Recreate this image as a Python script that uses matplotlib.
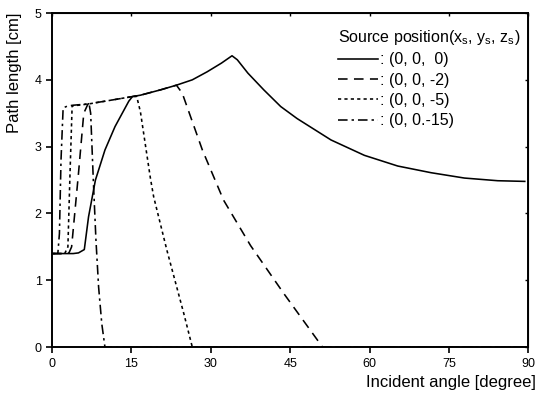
import matplotlib
matplotlib.use("Agg")
import matplotlib.pyplot as plt

plt.rcParams['font.family'] = ['Liberation Sans', 'DejaVu Sans']

# source at (0, 0, 0)
x_s0 = [0, 2, 4, 5.0, 6.1, 6.9, 8.2, 10.0, 11.9, 14.5, 15.2, 16.7, 20.5, 23.5, 26.5, 29.3,
        32.0, 34.0, 35.0, 37.0, 40.0, 43.2, 46.3, 52.7, 59.0, 65.3, 71.6, 77.9, 84.2, 89.3]
y_s0 = [1.40, 1.40, 1.40, 1.41, 1.46, 1.95, 2.50, 2.95, 3.30, 3.68, 3.75, 3.77, 3.85, 3.92, 4.00, 4.12,
        4.25, 4.36, 4.30, 4.10, 3.85, 3.60, 3.42, 3.10, 2.87, 2.71, 2.61, 2.53, 2.49, 2.48]

# source at (0, 0, -2)
x_s2 = [0, 2, 3.2, 3.7, 5.0, 6.0, 6.8, 10.0, 13.0, 15.2, 16.7, 20.5, 23.5, 24.6,
        28.4, 32.4, 37.5, 43.8, 51.1, 60, 75, 90]
y_s2 = [1.40, 1.40, 1.41, 1.50, 2.60, 3.50, 3.64, 3.68, 3.72, 3.75, 3.77, 3.85, 3.92, 3.80,
        2.95, 2.20, 1.52, 0.80, 0.0, 0.0, 0.0, 0.0]

# source at (0, 0, -5)
x_s5 = [0, 2.4, 3.0, 3.4, 3.8, 5.0, 7.0, 10.0, 13.0, 15.2, 16.0, 16.7, 18.6, 19.2,
        21.7, 24.9, 26.5, 40, 60, 90]
y_s5 = [1.40, 1.40, 1.50, 2.60, 3.61, 3.62, 3.64, 3.68, 3.72, 3.75, 3.75, 3.52, 2.52, 2.25,
        1.45, 0.50, 0.0, 0.0, 0.0, 0.0]

# source at (0, 0, -15)
x_s15 = [0, 1.1, 1.4, 1.7, 2.1, 3.0, 4.0, 5.5, 7.0, 7.3, 7.8, 8.3, 8.8, 9.4, 10.0, 30, 60, 90]
y_s15 = [1.40, 1.40, 1.70, 2.80, 3.58, 3.61, 3.62, 3.63, 3.64, 3.50, 2.50, 1.60, 0.90, 0.35, 0.0,
         0.0, 0.0, 0.0]

labels = [': (0, 0,  0)', ': (0, 0, -2)', ': (0, 0, -5)', ': (0, 0.-15)']
x_ticks = [0, 15, 30, 45, 60, 75, 90]
y_ticks = [0, 1, 2, 3, 4, 5]

fig = plt.figure(figsize=(5.39, 3.94), dpi=100)
ax = fig.add_axes([0.0965, 0.119, 0.884, 0.848])

lw = 1.15
ax.plot(x_s0, y_s0, color='black', lw=lw, linestyle='-', label=labels[0])
ax.plot(x_s2, y_s2, color='black', lw=lw, linestyle=(0, (6, 4)), label=labels[1])
ax.plot(x_s5, y_s5, color='black', lw=lw, linestyle=(0, (2, 2)), label=labels[2])
ax.plot(x_s15, y_s15, color='black', lw=lw, linestyle=(0, (6, 2.5, 1.5, 2.5)), label=labels[3])

ax.set_xlim(0, 90)
ax.set_ylim(0, 5)
ax.set_xticks(x_ticks)
ax.set_yticks(y_ticks)
ax.tick_params(direction='out', length=4, width=1.2, labelsize=9)
for s in ax.spines.values():
    s.set_linewidth(1.4)

# small inward ticks on top and right
top = ax.secondary_xaxis('top')
top.set_xticks(x_ticks)
top.tick_params(direction='in', length=2.5, width=1, labeltop=False)
right = ax.secondary_yaxis('right')
right.set_yticks(y_ticks)
right.tick_params(direction='in', length=2.5, width=1, labelright=False)

ax.set_ylabel('Path length [cm]', fontsize=12, loc='top')
ax.yaxis.set_label_coords(-0.063, 1.0)
ax.set_xlabel('Incident angle [degree]', fontsize=12, loc='right')
ax.xaxis.set_label_coords(1.015, -0.082)

leg = ax.legend(loc='upper left', bbox_to_anchor=(0.601, 0.955), frameon=False,
                fontsize=11.5,
                title=r'Source position(x$_\mathregular{s}$, y$_\mathregular{s}$, z$_\mathregular{s}$)',
                title_fontsize=11.5, handlelength=2.45, handletextpad=0.15,
                labelspacing=0.33, borderaxespad=0, borderpad=0)
leg._legend_box.align = 'left'

fig.savefig('out.png', dpi=100)
